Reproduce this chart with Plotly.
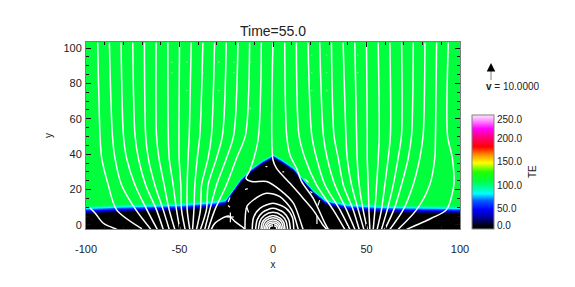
import numpy as np
import plotly.graph_objects as go

W, H = 575, 287
L, R, T, B = 86, 460, 42, 229

# Interface between the cold dome and the hot corona
boundary_x = [-100, -85.6, -67.4, -49.7, -32.1, -25.7, -21.9, -17.6, -12.3, -5.9, 0,
              5.3, 10.7, 16, 21.4, 27.8, 39.6, 57.2, 78.6, 100]
boundary_y = [7.6, 8.3, 8.9, 9.4, 10.9, 12.4, 18.1, 24.5, 30.1, 35.0, 38.4,
              35, 31, 24.5, 18.1, 12.4, 9.4, 8.3, 7.9, 7.6]
# Thickness of the transition layer along the interface (1 = full depth)
band_scale = [1, 1, 1, 1, 1, 0.75, 0.6, 0.6, 0.6, 0.6, 0.6,
              0.6, 0.6, 0.6, 0.6, 0.75, 1, 1, 1, 1]
# Temperature against height above the interface
profile_dy = [-1.6, -0.6, 0.4, 1.4, 2.4, 3.6]
profile_te = [0, 22, 45, 70, 90, 106]

# Field lines: x at each of these heights
line_levels = [103, 50.8, 37.7, 22.6, 8.5, -2.5]
line_x = [
    [-93.75, -92.5, -91.6, -88.1, -83.6, -69.6],
    [-87.5, -85.9, -84.5, -81, -73.3, -65.3],
    [-81.25, -80, -78.3, -73.8, -67.4, -61.9],
    [-75, -73.8, -72, -68.1, -62.3, -58.7],
    [-68.75, -68.1, -66.7, -63.2, -58.7, -55.5],
    [-62.5, -62.3, -61, -58.2, -55.5, -52.5],
    [-56.25, -56, -55.5, -53.4, -51.6, -49.8],
    [-50, -50.3, -50.2, -49.3, -48.9, -47],
    [-43.75, -44.8, -45.4, -45.9, -45.9, -44.5],
    [-37.5, -39.1, -40.5, -41.8, -42.3, -43],
    [-31.25, -32.9, -34.7, -38.2, -38.8, -40.9],
    [-25, -27, -30.2, -34.7, -35.6, -38.8],
    [-18.75, -21, -24.9, -30.2, -33.8, -36.5],
    [-12.5, -14.7, -19.5, -24.9, -31.1, -34.7],
    [12.5, 13.9, 17.1, 23.3, 32.2, 38.4],
    [18.75, 20.7, 23.3, 27.8, 35.8, 41.1],
    [25, 26.9, 29, 33.1, 39.3, 43.8],
    [31.25, 32.6, 34.9, 37.6, 42.9, 46.1],
    [37.5, 39, 39.7, 42, 45.6, 48.6],
    [43.75, 44.7, 45, 46.1, 48.2, 50.4],
    [50, 50.4, 50.4, 50.9, 51.3, 51.8],
    [56.25, 56.8, 56.3, 55.4, 54.5, 53.6],
    [62.5, 62.8, 61.6, 59.8, 58, 55.7],
    [68.75, 68.7, 66.9, 64.3, 61.1, 58],
    [75, 74.1, 72.3, 68.7, 64.6, 59.8],
    [81.25, 80.3, 78.5, 74.9, 69.6, 62.5],
    [87.5, 86.9, 86.5, 83.8, 76.7, 66.9],
]
# Lines that do not fit the common heights
free_lines = [
    ([-6.25, -8, -12.3, -14.4, -11.4, -3.4, 3.7, 10.9, 15.3, 16.1],
     [103, 48, 31, 26.4, 24.5, 24.5, 19.8, 12.3, 0, -2.5]),
    ([0, 0, 1.9, 9.1, 16.2, 21.4, 26.7, 28.7],
     [103, 36.7, 32, 23.5, 15, 8.5, 0, -2.5]),
    ([6.25, 7.3, 9.1, 12.6, 15.3, 21.5, 27.8, 29.6],
     [103, 50.8, 39.5, 32, 24.5, 15, 0.9, -2.5]),
    ([93.75, 93.3, 95.9, 96.7, 92.7, 84.7, 71.4],
     [103, 50.8, 37.7, 22.6, 8.5, 3.8, -2.5]),
    ([-97.9, -95.2, -90.9, -83.4], [9.6, 6.8, 1.1, -2.5]),
    ([-33, -31, -23.9, -20.3, -15.9, -15], [-2.5, 1, 5, 1.9, -1.5, -2.5]),
]
# Closed loops above the origin
arc_x = [
    [-15, -14, -10.5, -3.4, 3.7, 10, 13.5],
    [-11.1, -10.4, -7, 0, 7, 10.4, 11.1],
    [-9.3, -8.4, -5.6, 0, 5.6, 8.4, 9.3],
    [-7.8, -7, -4.7, 0, 4.7, 7, 7.8],
    [-6.4, -5.8, -3.8, 0, 3.8, 5.8, 6.4],
    [-5.5, -5, -3.3, 0, 3.3, 5, 5.5],
    [-4.6, -4.1, -2.8, 0, 2.8, 4.1, 4.6],
    [-3.8, -3.4, -2.3, 0, 2.3, 3.4, 3.8],
    [-3, -2.7, -1.8, 0, 1.8, 2.7, 3],
    [-2, -1.8, -1.2, 0, 1.2, 1.8, 2],
]
arc_y = [
    [-2.5, 10.4, 14.1, 17.9, 16, 8.5, -2.5],
    [-2.5, 4.2, 9.4, 12.2, 9.4, 4.2, -2.5],
    [-2.5, 3, 7.1, 9.4, 7.1, 3, -2.5],
    [-2.5, 2, 5.3, 7.1, 5.3, 2, -2.5],
    [-2.5, 1.3, 3.9, 5.4, 3.9, 1.3, -2.5],
    [-2.5, 0.7, 2.9, 4.1, 2.9, 0.7, -2.5],
    [-2.5, 0.1, 1.8, 2.8, 1.8, 0.1, -2.5],
    [-2.5, -0.4, 1, 1.7, 1, -0.4, -2.5],
    [-2.5, -0.9, 0.1, 0.6, 0.1, -0.9, -2.5],
    [-2.5, -1.3, -0.7, -0.4, -0.7, -1.3, -2.5],
]
# Short velocity arrows inside the dome
arrow_x = [[-23, -24], [-22.8, -22.8], [-25, -21], [-15, -13.5], [-14, -13], [-24, -23], [17, 19], [25, 24], [23.5, 23.5], [20, 21], [-4, -3], [5, 6]]
arrow_y = [[15.5, 13], [7, 1.5], [4.5, 4.5], [20, 20.5], [10, 7], [11, 10], [26, 24], [14, 11], [5, 0.5], [19, 18], [33, 33], [30, 30]]
# Tiny velocity marks in the hot region
speck_x = [-54, -46, -37.6, -29, -21, -12.3, 20.7, 28.7, 45.4, -54, -37.6, -21, 20.7, 28.7, 45.4, -46, -29, 20.7, 28.7, -12.3]
speck_y = [92, 92, 92, 92, 92, 92, 96, 96, 96, 86, 86, 86, 86, 86, 86, 76, 76, 76, 76, 66]

x_tick_vals = [-100, -50, 0, 50, 100]
x_tick_text = ["-100", "-50", "0", "50", "100"]
y_tick_vals = [0, 20, 40, 60, 80, 100]
cbar_labels = ["0.0", "50.0", "100.0", "150.0", "200.0", "250.0"]
cbar_label_at = [6.6, 46, 96.5, 147, 197.4, 241]

colorscale = [[0, "#000000"], [0.03, "#000010"], [0.1, "#00009a"], [0.17, "#0000ff"],
              [0.25, "#0060ff"], [0.31, "#00ffff"], [0.37, "#00ff90"], [0.42, "#00ff40"],
              [0.5, "#20ff00"], [0.58, "#ffff00"], [0.65, "#ff9000"], [0.72, "#ff0000"],
              [0.82, "#ff0090"], [0.88, "#ff00ff"], [0.95, "#ff90ff"], [1, "#ffe8ff"]]

gx = np.linspace(-100, 100, 375)
gy = np.linspace(-2.5, 103.5, 188)
h = np.interp(gx, boundary_x, boundary_y)
s = np.interp(gx, boundary_x, band_scale)
te = np.interp((gy[:, None] - h[None, :]) / s[None, :], profile_dy, profile_te)

px = lambda p: (p - L) / (R - L)
py = lambda p: (B - p) / (B - T)

fig = go.Figure()
fig.add_trace(go.Heatmap(
    x=gx, y=gy, z=te, zmin=0, zmax=250, colorscale=colorscale, hoverinfo="skip",
    colorbar=dict(
        thicknessmode="pixels", thickness=22, lenmode="pixels", len=114,
        x=px(472), xanchor="left", y=0, yanchor="bottom", xpad=0, ypad=0,
        outlinecolor="#808080", outlinewidth=1, borderwidth=0,
        tickmode="array", tickvals=cbar_label_at, ticktext=cbar_labels,
        ticks="", ticklabelposition="outside",
        tickfont=dict(family="Liberation Sans", size=10, color="#222222"),
    ),
))

line_style = dict(color="white", width=1.5, shape="spline", smoothing=0.8)
for xs in line_x:
    fig.add_trace(go.Scatter(x=xs, y=line_levels, mode="lines", line=line_style, hoverinfo="skip", showlegend=False))
for xs, ys in free_lines:
    fig.add_trace(go.Scatter(x=xs, y=ys, mode="lines", line=line_style, hoverinfo="skip", showlegend=False))
for xs, ys in zip(arc_x, arc_y):
    fig.add_trace(go.Scatter(x=xs, y=ys, mode="lines", line=line_style, hoverinfo="skip", showlegend=False))
for xs, ys in zip(arrow_x, arrow_y):
    fig.add_trace(go.Scatter(x=xs, y=ys, mode="lines", line=dict(color="white", width=1.2), hoverinfo="skip", showlegend=False))
fig.add_trace(go.Scatter(x=speck_x, y=speck_y, mode="markers", marker=dict(color="white", size=1.5, opacity=0.6),
                         hoverinfo="skip", showlegend=False))

font = dict(family="Liberation Sans", size=11, color="#222222")
axis_common = dict(
    showgrid=False, zeroline=False, showline=True, linecolor="#808080", linewidth=1,
    mirror="allticks", ticks="inside", tickcolor="#111111", tickwidth=1, ticklen=5,
    tickfont=font,
)
fig.update_layout(
    width=W, height=H, autosize=False, paper_bgcolor="white", plot_bgcolor="black",
    margin=dict(l=L, r=W - R, t=T, b=H - B, pad=0, autoexpand=False), showlegend=False,
    font=font,
    title=dict(text="Time=55.0", x=273 / W, xanchor="center", y=1 - 31 / H, yanchor="middle",
               font=dict(family="Liberation Sans", size=14, color="#222222")),
    xaxis=dict(range=[-100, 100], tickvals=x_tick_vals, ticktext=x_tick_text, ticklabelstandoff=10,
               minor=dict(ticks="inside", dtick=10, ticklen=3, tickcolor="#111111", tickwidth=1),
               title=dict(text="x", standoff=6, font=dict(family="Liberation Sans", size=10, color="#222222")),
               **axis_common),
    yaxis=dict(range=[-2.3, 103.4], tickvals=y_tick_vals, ticklabelstandoff=1,
               minor=dict(ticks="inside", dtick=5, ticklen=3, tickcolor="#111111", tickwidth=1),
               title=dict(text="y", standoff=8, font=dict(family="Liberation Sans", size=10, color="#222222")),
               **axis_common),
)
fig.add_shape(type="line", xref="paper", yref="paper", x0=px(491), x1=px(491), y0=py(80), y1=py(68),
              line=dict(color="#808080", width=1))
fig.add_annotation(xref="paper", yref="paper", x=px(491), y=py(63), ax=0, ay=7,
                   text="", showarrow=True, arrowhead=2, arrowsize=1.7, arrowwidth=1, arrowcolor="black")
fig.add_annotation(xref="paper", yref="paper", x=px(512.5), y=py(86), text="<b>v</b> = 10.0000", showarrow=False,
                   font=dict(family="Liberation Sans", size=10, color="#222222"), xanchor="center", yanchor="middle")
fig.add_annotation(xref="paper", yref="paper", x=px(532), y=py(172), text="TE", textangle=-90, showarrow=False,
                   font=dict(family="Liberation Sans", size=10, color="#222222"), xanchor="center", yanchor="middle")

fig.write_html("out.html", config=dict(displayModeBar=False),
               post_script="document.body.style.margin='0';")
